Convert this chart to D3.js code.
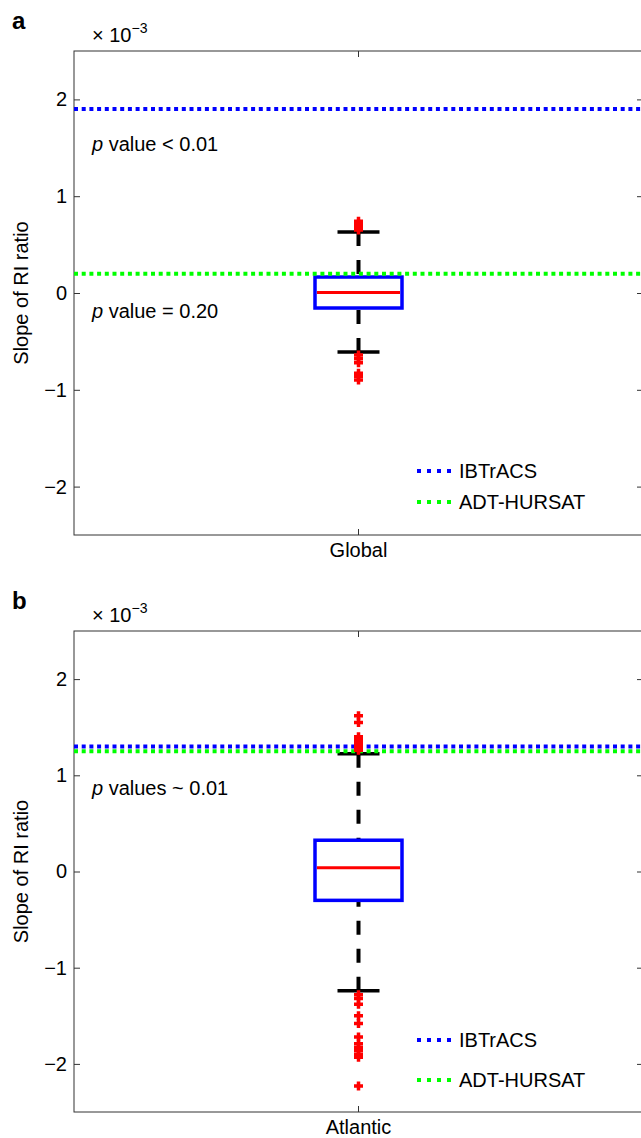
<!DOCTYPE html>
<html>
<head>
<meta charset="utf-8">
<script src="https://cdn.jsdelivr.net/npm/d3@7"></script>
<style>
  body { margin: 0; background: #fff; }
  svg { display: block; font-family: "Liberation Sans", Arial, Helvetica, sans-serif; }
</style>
</head>
<body>
<div id="chart"></div>
<script>
// --- Data (values in units of 1e-3) ---
const panelLetters = ["a", "b"];
const categories = ["Global", "Atlantic"];
const yTicks = [-2, -1, 0, 1, 2];

// box stats: [lower cap, q1, median, q3, upper cap]
const globalBox = [-0.61, -0.155, 0.005, 0.165, 0.63];
const atlanticBox = [-1.24, -0.30, 0.04, 0.325, 1.225];

const globalOutliers = [0.74, 0.71, 0.68, 0.65, -0.64, -0.68, -0.72, -0.83, -0.86, -0.90];
const atlanticOutliers = [1.62, 1.55, 1.40, 1.37, 1.34, 1.31, 1.28, 1.26,
  -1.28, -1.32, -1.38, -1.50, -1.58, -1.72, -1.79, -1.83, -1.86, -1.90, -1.93, -2.23];

const seriesNames = ["IBTrACS", "ADT-HURSAT"];
const seriesColors = ["#0000ff", "#00ff00"];
const globalSlopes = [1.90, 0.20];
const atlanticSlopes = [1.30, 1.25];

// p value annotations: text after the italic "p", and where it sits (data units)
const globalNotes = [" value < 0.01", " value = 0.20"];
const globalNoteAt = [1.54, -0.19];
const atlanticNotes = [" values ~ 0.01"];
const atlanticNoteAt = [0.865];

// --- Layout ---
const W = 641, H = 1138;
const left = 74, right = 643;

const svg = d3.select("#chart").append("svg")
  .attr("width", W).attr("height", H);

function drawPanel(opts) {
  const { top, bottom, letter, cat, box, outliers, slopes, notes, noteAt, legendY } = opts;

  const y = d3.scaleLinear().domain([-2.5, 2.5]).range([bottom, top]);
  const x = d3.scaleBand().domain([cat]).range([left, right]);
  const cx = x(cat) + x.bandwidth() / 2;
  const boxW = 87, capW = 42;

  const g = svg.append("g");

  // panel letter
  g.append("text").attr("x", 12).attr("y", top - 22)
    .attr("font-size", 24).attr("font-weight", "bold").text(letter);

  // exponent label
  const ex = g.append("text").attr("x", 92).attr("y", top - 9).attr("font-size", 20);
  ex.append("tspan").text("× 10");
  ex.append("tspan").attr("font-size", 14).attr("dy", -9).text("−3");

  // axes (ticks inward, MATLAB style)
  const yLeft = g.append("g").attr("transform", `translate(${left},0)`)
    .call(d3.axisLeft(y).tickValues(yTicks).tickSize(-6).tickPadding(7).tickFormat(d3.format("d")));
  const yRight = g.append("g").attr("transform", `translate(${right},0)`)
    .call(d3.axisRight(y).tickValues(yTicks).tickSize(-6).tickFormat(""));
  const xBottom = g.append("g").attr("transform", `translate(0,${bottom})`)
    .call(d3.axisBottom(x).tickSize(-6).tickPadding(8));
  const xTop = g.append("g").attr("transform", `translate(0,${top})`)
    .call(d3.axisTop(x).tickSize(-6).tickFormat(""));

  [yLeft, yRight, xBottom, xTop].forEach((a) => {
    a.select(".domain").remove();
    a.selectAll(".tick line").attr("stroke", "#333").attr("stroke-width", 1);
    a.selectAll(".tick text").attr("font-size", 20).attr("fill", "#000")
      .attr("font-family", "Liberation Sans, Arial, sans-serif");
  });
  xBottom.selectAll(".tick text").attr("dy", "0.71em");

  g.append("rect").attr("x", left).attr("y", top)
    .attr("width", right - left).attr("height", bottom - top)
    .attr("fill", "none").attr("stroke", "#333").attr("stroke-width", 1);

  // y label
  g.append("text")
    .attr("transform", `translate(28,${(top + bottom) / 2}) rotate(-90)`)
    .attr("text-anchor", "middle").attr("font-size", 20)
    .text("Slope of RI ratio");

  // whiskers (dashed, from cap to box)
  g.append("line").attr("x1", cx).attr("x2", cx)
    .attr("y1", y(box[4])).attr("y2", y(box[3]))
    .attr("stroke", "#000").attr("stroke-width", 4).attr("stroke-dasharray", "14,14");
  g.append("line").attr("x1", cx).attr("x2", cx)
    .attr("y1", y(box[0])).attr("y2", y(box[1]))
    .attr("stroke", "#000").attr("stroke-width", 4).attr("stroke-dasharray", "14,14");

  // caps
  g.selectAll(".cap").data([box[0], box[4]]).join("line")
    .attr("x1", cx - capW / 2).attr("x2", cx + capW / 2)
    .attr("y1", (d) => y(d)).attr("y2", (d) => y(d))
    .attr("stroke", "#000").attr("stroke-width", 3.5);

  // box
  g.append("rect")
    .attr("x", cx - boxW / 2).attr("width", boxW)
    .attr("y", y(box[3])).attr("height", y(box[1]) - y(box[3]))
    .attr("fill", "none").attr("stroke", "#0000ff").attr("stroke-width", 3.5);

  // median
  g.append("line")
    .attr("x1", cx - boxW / 2 + 2).attr("x2", cx + boxW / 2 - 2)
    .attr("y1", y(box[2])).attr("y2", y(box[2]))
    .attr("stroke", "#ff0000").attr("stroke-width", 3);

  // reference slopes
  g.selectAll(".ref").data(slopes).join("line")
    .attr("x1", left).attr("x2", right)
    .attr("y1", (d) => y(d)).attr("y2", (d) => y(d))
    .attr("stroke", (d, i) => seriesColors[i]).attr("stroke-width", 4)
    .attr("stroke-dasharray", "4,3.7");

  // outliers
  g.selectAll(".out").data(outliers).join("path")
    .attr("transform", (d) => `translate(${cx},${y(d)})`)
    .attr("d", "M-4.5,0H4.5M0,-4.5V4.5")
    .attr("stroke", "#ff0000").attr("stroke-width", 3.5).attr("fill", "none");

  // p value notes
  notes.forEach((txt, i) => {
    const t = g.append("text").attr("x", 92).attr("y", y(noteAt[i]) + 7).attr("font-size", 20);
    t.append("tspan").attr("font-style", "italic").text("p");
    t.append("tspan").text(txt);
  });

  // legend
  seriesNames.forEach((name, i) => {
    const ly = legendY[i];
    g.append("line").attr("x1", 417).attr("x2", 453).attr("y1", ly).attr("y2", ly)
      .attr("stroke", seriesColors[i]).attr("stroke-width", 4).attr("stroke-dasharray", "4,6");
    g.append("text").attr("x", 459).attr("y", ly + 7).attr("font-size", 20).text(name);
  });
}

drawPanel({
  top: 51, bottom: 535, letter: panelLetters[0], cat: categories[0],
  box: globalBox, outliers: globalOutliers, slopes: globalSlopes,
  notes: globalNotes, noteAt: globalNoteAt, legendY: [471, 502],
});

drawPanel({
  top: 631, bottom: 1112, letter: panelLetters[1], cat: categories[1],
  box: atlanticBox, outliers: atlanticOutliers, slopes: atlanticSlopes,
  notes: atlanticNotes, noteAt: atlanticNoteAt, legendY: [1040, 1080],
});
</script>
</body>
</html>
